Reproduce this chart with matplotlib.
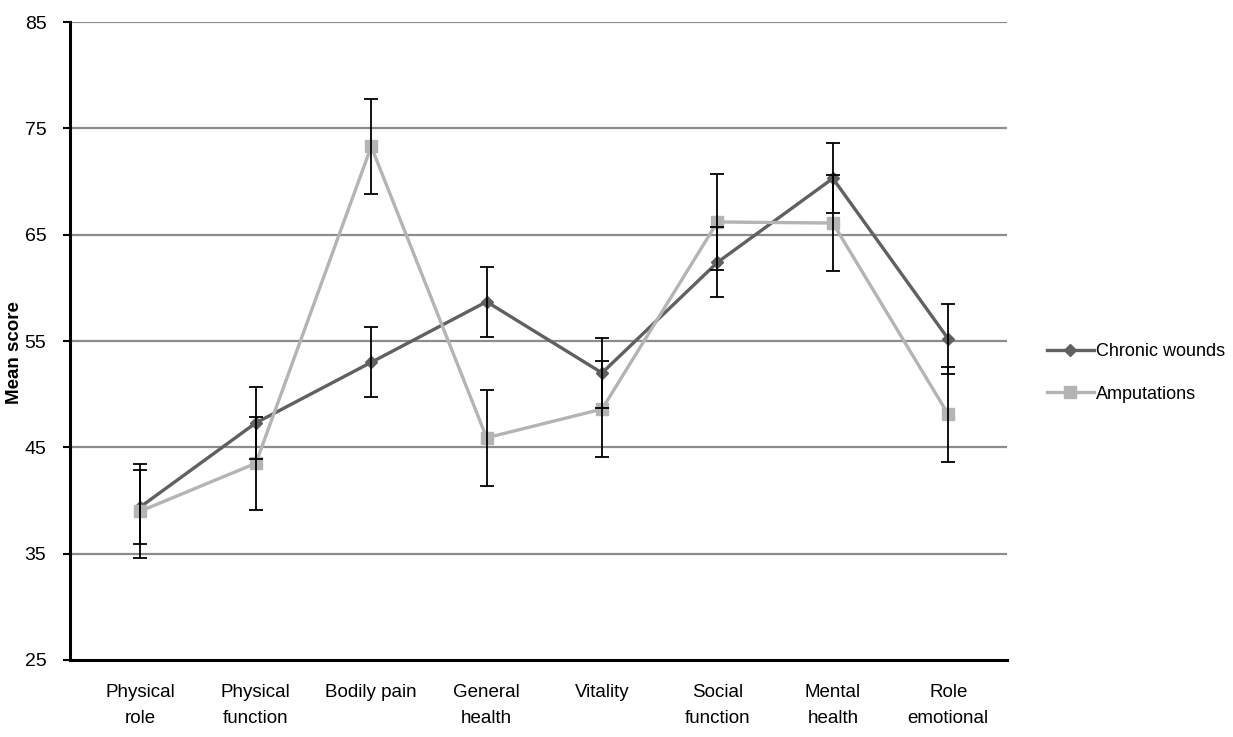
import numpy as np
import matplotlib
matplotlib.use("Agg")
import matplotlib.pyplot as plt

categories = ["Physical\nrole", "Physical\nfunction", "Bodily pain", "General\nhealth",
              "Vitality", "Social\nfunction", "Mental\nhealth", "Role\nemotional"]

chronic = [39.4, 47.3, 53.0, 58.7, 52.0, 62.4, 70.3, 55.2]
chronic_err = [3.45, 3.4, 3.3, 3.3, 3.3, 3.3, 3.3, 3.3]

amput = [39.0, 43.5, 73.3, 45.9, 48.6, 66.2, 66.1, 48.1]
amput_err = [4.4, 4.4, 4.45, 4.5, 4.5, 4.5, 4.5, 4.5]

yticks = [25, 35, 45, 55, 65, 75, 85]

plt.rcParams['font.family'] = ['Liberation Sans Narrow', 'Liberation Sans', 'DejaVu Sans']

fig = plt.figure(figsize=(12.33, 7.37), dpi=100)
ax = fig.add_axes([0.0568, 0.1045, 0.76, 0.8655])

x = np.arange(len(categories))

for yv in yticks[1:]:
    ax.axhline(yv, color='#8c8c8c', lw=1.6, zorder=1)

ax.plot(x, chronic, color='#606060', lw=2.4, marker='D', ms=6.5, zorder=3, label='Chronic wounds')
ax.plot(x, amput, color='#b4b4b4', lw=2.4, marker='s', ms=8.5, zorder=3, label='Amputations')
ax.errorbar(x, chronic, yerr=chronic_err, fmt='none', ecolor='black', elinewidth=1.3,
            capsize=5, capthick=1.3, zorder=4)
ax.errorbar(x, amput, yerr=amput_err, fmt='none', ecolor='black', elinewidth=1.3,
            capsize=5, capthick=1.3, zorder=4)

ax.set_xlim(-0.61, 7.51)
ax.set_ylim(25, 85)
ax.set_yticks(yticks)
ax.set_yticklabels([str(v) for v in yticks], fontsize=14)
ax.set_xticks(x)
ax.set_xticklabels(categories, fontsize=13.5, linespacing=1.75)
ax.tick_params(axis='x', length=0, pad=17)
ax.tick_params(axis='y', length=5, width=1.5, direction='out', pad=12)

for s in ['top', 'right']:
    ax.spines[s].set_visible(False)
ax.spines['left'].set_linewidth(2.2)
ax.spines['bottom'].set_linewidth(2.2)

# y label placed by hand so it is not clipped at the left edge
fig.text(0.012, 0.522, "Mean score", rotation=90, ha='center', va='center', fontsize=13.5,
         fontweight='bold', family=['Liberation Sans', 'DejaVu Sans'])

ax.legend(loc='center left', bbox_to_anchor=(1.025, 0.45), frameon=False, fontsize=13,
          handlelength=2.6, handletextpad=0.1, labelspacing=1.4)

fig.savefig("out.png", dpi=100)
